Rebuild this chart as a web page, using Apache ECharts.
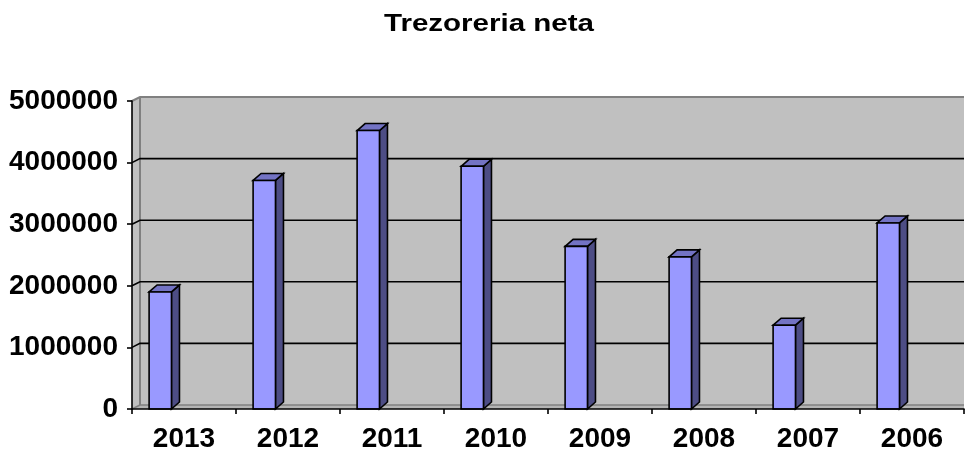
<!DOCTYPE html>
<html>
<head>
<meta charset="utf-8">
<script src="https://cdn.jsdelivr.net/npm/echarts@6/dist/echarts.min.js"></script>
<style>
html,body{margin:0;padding:0;background:#fff;}
#chart{width:967px;height:453px;}
</style>
</head>
<body>
<div id="chart"></div>
<script>
const titleText = 'Trezoreria neta';
const categories = ['2013', '2012', '2011', '2010', '2009', '2008', '2007', '2006'];
const values = [1900000, 3710000, 4520000, 3940000, 2640000, 2470000, 1360000, 3020000];
const yMin = 0;
const yMax = 5000000;
const yInterval = 1000000;

const chart = echarts.init(document.getElementById('chart'));

const WDX = 8, WDY = -4;   // wall depth offset
const BDX = 8, BDY = -7;   // bar depth offset

function renderWalls(params, api) {
  const cs = params.coordSys;
  const x = cs.x, y = cs.y, w = cs.width, h = cs.height;
  const children = [];
  children.push({type: 'rect', shape: {x: x + WDX, y: y + WDY, width: w - WDX, height: h},
    style: {fill: '#C0C0C0'}});
  children.push({type: 'polygon', shape: {points: [[x, y], [x + WDX, y + WDY], [x + WDX, y + h + WDY], [x, y + h]]},
    style: {fill: '#C0C0C0'}});
  children.push({type: 'polygon', shape: {points: [[x, y + h], [x + WDX, y + h + WDY], [x + w, y + h + WDY], [x + w, y + h]]},
    style: {fill: '#B4B4B4'}});
  children.push({type: 'line', shape: {x1: x + WDX, y1: y + h + WDY, x2: x + w, y2: y + h + WDY},
    style: {stroke: '#808080', lineWidth: 1.5}});
  children.push({type: 'line', shape: {x1: x + WDX, y1: y + WDY, x2: x + WDX, y2: y + h + WDY},
    style: {stroke: '#808080', lineWidth: 2}});
  children.push({type: 'polyline', shape: {points: [[x, y], [x + WDX, y + WDY], [x + w, y + WDY]]},
    style: {stroke: '#808080', lineWidth: 2, fill: 'none'}});
  children.push({type: 'line', shape: {x1: x, y1: y + h, x2: x + WDX, y2: y + h + WDY},
    style: {stroke: '#808080', lineWidth: 1.5}});
  for (let v = yMin + yInterval; v < yMax; v += yInterval) {
    const py = api.coord([0, v])[1];
    children.push({type: 'polyline', shape: {points: [[x, py], [x + WDX, py + WDY], [x + w, py + WDY]]},
      style: {stroke: '#000', lineWidth: 1.6, fill: 'none'}});
  }
  return {type: 'group', children: children};
}

function renderBars(params, api) {
  const i = api.value(0);
  const v = api.value(1);
  const top = api.coord([i, v]);
  const base = api.coord([i, 0]);
  const band = api.size([1, 0])[0];
  const bw = band * 0.215;
  const off = -band * 0.228;
  const x0 = top[0] + off - bw / 2, x1 = x0 + bw;
  const yT = top[1], yB = base[1];
  const st = {stroke: '#000', lineWidth: 1.6, lineJoin: 'miter'};
  return {type: 'group', children: [
    {type: 'polygon', shape: {points: [[x1, yT], [x1 + BDX, yT + BDY], [x1 + BDX, yB + BDY], [x1, yB]]},
      style: Object.assign({fill: '#4D4D85'}, st)},
    {type: 'polygon', shape: {points: [[x0, yT], [x0 + BDX, yT + BDY], [x1 + BDX, yT + BDY], [x1, yT]]},
      style: Object.assign({fill: '#7373C4'}, st)},
    {type: 'polygon', shape: {points: [[x0, yT], [x1, yT], [x1, yB], [x0, yB]]},
      style: Object.assign({fill: '#9999FF'}, st)}
  ]};
}

const labelFont = {fontFamily: '"Liberation Sans", Arial, sans-serif', fontWeight: 'bold', fontSize: 28, color: '#000'};

chart.setOption({
  animation: false,
  backgroundColor: '#ffffff',
  grid: {left: 132, right: 3, top: 101, bottom: 44, containLabel: false},
  graphic: [{
    type: 'group', x: 489, y: 24, scaleX: 1.23,
    children: [{type: 'text', x: 0, y: 0,
      style: {text: titleText, fill: '#000', textAlign: 'center', textVerticalAlign: 'middle',
        font: 'bold 24px "Liberation Sans", Arial, sans-serif'}}]
  }],
  xAxis: {
    type: 'category', data: categories, boundaryGap: true, z: 10,
    axisLine: {show: true, lineStyle: {color: '#000', width: 1.6}},
    axisTick: {show: true, length: 5, lineStyle: {color: '#000', width: 1.6}},
    axisLabel: Object.assign({margin: 16}, labelFont),
    splitLine: {show: false}
  },
  yAxis: {
    type: 'value', min: yMin, max: yMax, interval: yInterval, z: 10,
    axisLine: {show: true, lineStyle: {color: '#000', width: 1.6}},
    axisTick: {show: true, length: 5, lineStyle: {color: '#000', width: 1.6}},
    axisLabel: Object.assign({margin: 14, formatter: (v) => String(v)}, labelFont),
    splitLine: {show: false}
  },
  series: [
    {type: 'custom', renderItem: renderWalls, data: [[0, 0]], z: 1, clip: false, silent: true,
      encode: {x: 0, y: 1}},
    {type: 'custom', renderItem: renderBars, data: values.map((v, i) => [i, v]), z: 3, clip: false,
      encode: {x: 0, y: 1}}
  ]
});
</script>
</body>
</html>
